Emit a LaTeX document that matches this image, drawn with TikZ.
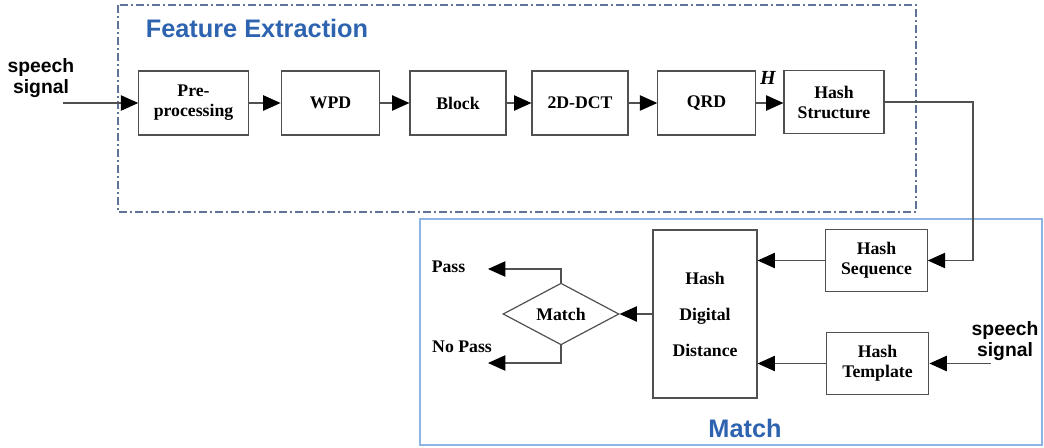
\documentclass[tikz,border=0pt]{standalone}
\usepackage{fontspec}
\setmainfont{Liberation Serif}
\setsansfont{Liberation Sans}
\usetikzlibrary{arrows.meta,shapes.geometric}
\definecolor{titleblue}{HTML}{2E63B0}
\definecolor{frameblue}{HTML}{5F7399}
\definecolor{matchblue}{HTML}{8DB4E2}
\definecolor{linegray}{HTML}{505050}

\begin{document}
\begin{tikzpicture}[x=0.75pt,y=-0.75pt,>={Triangle[length=13pt,width=11.5pt,color=black]},
  font=\bfseries\fontsize{13.3}{15}\selectfont,
  blk/.style={draw=linegray,line width=0.9pt,align=center,minimum height=48pt},
  wire/.style={draw=linegray,line width=0.9pt},
  lbl/.style={font=\sffamily\bfseries\fontsize{14.5}{15.5}\selectfont,align=center},
  ttl/.style={font=\sffamily\bfseries\fontsize{19}{21}\selectfont,text=titleblue}]
\useasboundingbox (0,0) rectangle (1044,447);
% frames
\draw[frameblue,line width=0.8pt,dash pattern=on 6pt off 2.5pt on 1pt off 2.5pt] (118,5) rectangle (916,212);
\draw[matchblue,line width=1pt] (420,219) rectangle (1042,445);
\node[ttl] (fetitle) at (257,28) {Feature Extraction};
\node[ttl] (mtitle) at (745,428) {Match};
% feature extraction chain
\node[blk,minimum width=82pt] (pre) at (193.5,103) {Pre-\\processing};
\node[blk,minimum width=74pt] (wpd) at (330.5,103) {WPD};
\node[blk,minimum width=72pt] (blk) at (458,103) {Block};
\node[blk,minimum width=72pt] (dct) at (580,103) {2D-DCT};
\node[blk,minimum width=73pt] (qrd) at (706.5,103) {QRD};
\node[blk,minimum width=75pt,minimum height=47pt] (hstr) at (834,102) {Hash\\Structure};
\node[font=\bfseries\itshape\fontsize{15}{17}\selectfont] (h) at (768,78) {H};
\node[lbl] (sin1) at (41,78) {speech\\signal};
\coordinate (in1) at (63,103);
\draw[wire,->] (in1) -- (pre);
\draw[wire,->] (pre) -- (wpd);
\draw[wire,->] (wpd) -- (blk);
\draw[wire,->] (blk) -- (dct);
\draw[wire,->] (dct) -- (qrd);
\draw[wire,->] (qrd.east) -- (qrd.east -| hstr.west);
% match part
\node[blk,minimum width=76pt,minimum height=47pt] (hseq) at (876.5,260.5) {Hash\\Sequence};
\node[blk,minimum width=77pt,minimum height=47pt] (htmp) at (877.5,363.5) {Hash\\Template};
\node[blk,minimum width=78pt,minimum height=126pt] (hdd) at (705,314) {Hash\\[12pt]Digital\\[12pt]Distance};
\node[draw=linegray,line width=0.9pt,diamond,inner sep=0pt,minimum width=87pt,minimum height=34.5pt] (dm) at (561,314) {Match};
\node[lbl] (sin2) at (1005,341) {speech\\signal};
\coordinate (bend) at (973,102);
\coordinate (in2) at (991,363.5);
\coordinate (passend) at (488,269);
\coordinate (nopassend) at (488,363);
\node[anchor=east] (pass) at (470,267) {Pass};
\node (nopass) at (462,347) {No Pass};
\draw[wire,->] (hstr.east) -- (bend) |- (hseq.east);
\draw[wire,->] (in2) -- (htmp.east);
\draw[wire,->] (hseq.west) -- (hseq.west -| hdd.east);
\draw[wire,->] (htmp.west) -- (htmp.west -| hdd.east);
\draw[wire,->] (hdd.west) -- (dm.east);
\draw[wire,->] (dm.north) |- (passend);
\draw[wire,->] (dm.south) |- (nopassend);
\end{tikzpicture}
\end{document}
